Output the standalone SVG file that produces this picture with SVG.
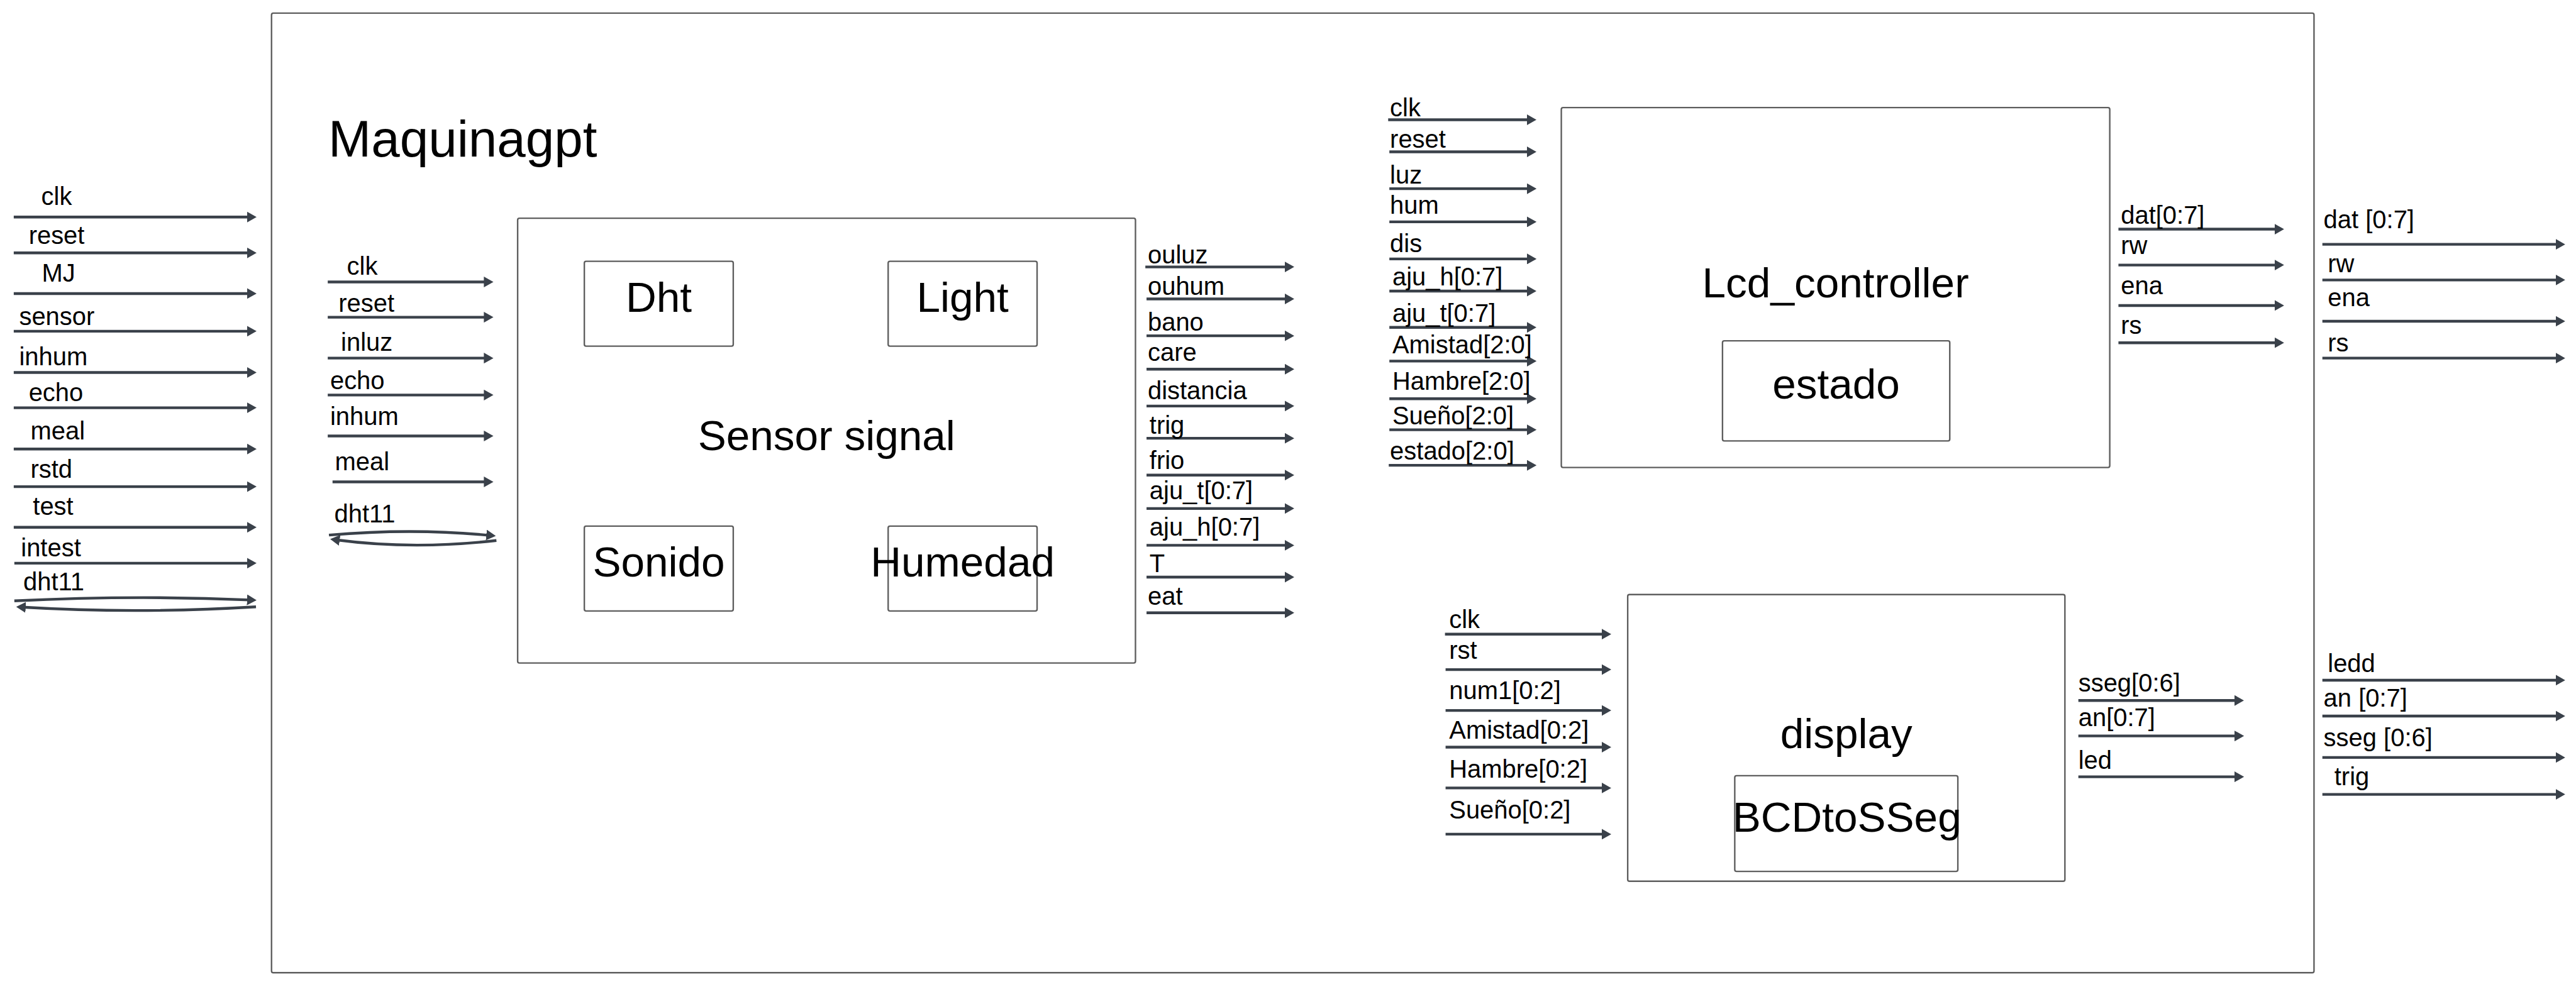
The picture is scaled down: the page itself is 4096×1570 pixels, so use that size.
<svg xmlns="http://www.w3.org/2000/svg" width="4096" height="1570" viewBox="0 0 4096 1570">
<defs>
<marker id="ah" markerUnits="userSpaceOnUse" markerWidth="16" markerHeight="18" viewBox="0 0 16 18" refX="6" refY="9" orient="auto">
<path d="M0,0 L16,9 L0,18 z" fill="#3a414a"/>
</marker>
<style>
.box{fill:#fff;stroke:#5e5e5e;stroke-width:2.5}
.sub{fill:none;stroke:#5e5e5e;stroke-width:2.5}
.w{stroke:#3a414a;stroke-width:4.6;fill:none;marker-end:url(#ah)}
.lbl{font-family:"Liberation Sans",Arial,sans-serif;font-size:42px;fill:#000}
.ttl{font-family:"Liberation Sans",Arial,sans-serif;font-size:71px;fill:#000;text-anchor:middle}
.big{font-family:"Liberation Sans",Arial,sans-serif;font-size:86px;fill:#000}
</style>
</defs>
<rect width="4096" height="1570" fill="#fff"/>
<g transform="scale(0.951)">
<g id="maquinagpt">
<rect class="box" x="454" y="22" width="3415" height="1605" rx="3"/>
<text class="big" x="549" y="262">Maquinagpt</text>
</g>
<g id="sensor_signal">
<rect class="box" x="865.5" y="365" width="1033" height="744" rx="3"/>
<text class="ttl" x="1382" y="753">Sensor signal</text>
</g>
<g id="dht">
<rect class="sub" x="977" y="437" width="249" height="142" rx="3"/>
<text class="ttl" x="1101.5" y="521.6">Dht</text>
</g>
<g id="light">
<rect class="sub" x="1485" y="437" width="249" height="142" rx="3"/>
<text class="ttl" x="1609.5" y="521.6">Light</text>
</g>
<g id="sonido">
<rect class="sub" x="977" y="880" width="249" height="142" rx="3"/>
<text class="ttl" x="1101.5" y="964.4">Sonido</text>
</g>
<g id="humedad">
<rect class="sub" x="1485" y="880" width="249" height="142" rx="3"/>
<text class="ttl" x="1609.5" y="964.4">Humedad</text>
</g>
<g id="lcd_controller">
<rect class="box" x="2610.5" y="180" width="917" height="602" rx="3"/>
<text class="ttl" x="3069" y="497">Lcd_controller</text>
</g>
<g id="estado">
<rect class="sub" x="2880" y="570" width="380" height="167.5" rx="3"/>
<text class="ttl" x="3070" y="667">estado</text>
</g>
<g id="display">
<rect class="box" x="2721.5" y="994.5" width="731" height="479.5" rx="3"/>
<text class="ttl" x="3087" y="1251.7">display</text>
</g>
<g id="bcdtosseg">
<rect class="sub" x="2900.5" y="1297.5" width="373" height="160" rx="3"/>
<text class="ttl" x="3088" y="1390.7">BCDtoSSeg</text>
</g>
<g id="connectors">
<line class="w" x1="23" y1="363" x2="419" y2="363"/>
<line class="w" x1="23" y1="423" x2="419" y2="423"/>
<line class="w" x1="23" y1="491" x2="419" y2="491"/>
<line class="w" x1="23" y1="554" x2="419" y2="554"/>
<line class="w" x1="23" y1="623" x2="419" y2="623"/>
<line class="w" x1="23" y1="682" x2="419" y2="682"/>
<line class="w" x1="23" y1="751" x2="419" y2="751"/>
<line class="w" x1="23" y1="814" x2="419" y2="814"/>
<line class="w" x1="23" y1="882" x2="419" y2="882"/>
<line class="w" x1="24" y1="942" x2="419" y2="942"/>
<path class="w" d="M24,1005 Q226,995 419,1003.5"/>
<path class="w" d="M428,1015 Q228,1027 37,1015.5"/>
<line class="w" x1="548" y1="471.6" x2="815" y2="471.6"/>
<line class="w" x1="548" y1="530.6" x2="815" y2="530.6"/>
<line class="w" x1="548" y1="599" x2="815" y2="599"/>
<line class="w" x1="548" y1="660.7" x2="815" y2="660.7"/>
<line class="w" x1="548" y1="729.2" x2="815" y2="729.2"/>
<line class="w" x1="556" y1="806" x2="815" y2="806"/>
<path class="w" d="M550,895 Q690,883 819,895.5"/>
<path class="w" d="M830,904 Q690,920 562,903"/>
<line class="w" x1="1915" y1="446.5" x2="2154" y2="446.5"/>
<line class="w" x1="1917" y1="500" x2="2154" y2="500"/>
<line class="w" x1="1917" y1="561.7" x2="2154" y2="561.7"/>
<line class="w" x1="1917" y1="617.5" x2="2154" y2="617.5"/>
<line class="w" x1="1917" y1="679.1" x2="2154" y2="679.1"/>
<line class="w" x1="1917" y1="733.1" x2="2154" y2="733.1"/>
<line class="w" x1="1917" y1="794.7" x2="2154" y2="794.7"/>
<line class="w" x1="1917" y1="850.5" x2="2154" y2="850.5"/>
<line class="w" x1="1917" y1="912.1" x2="2154" y2="912.1"/>
<line class="w" x1="1917" y1="965.3" x2="2154" y2="965.3"/>
<line class="w" x1="1917" y1="1025" x2="2154" y2="1025"/>
<line class="w" x1="2321" y1="200.3" x2="2559" y2="200.3"/>
<line class="w" x1="2323" y1="254" x2="2559" y2="254"/>
<line class="w" x1="2323" y1="315.6" x2="2559" y2="315.6"/>
<line class="w" x1="2323" y1="371.1" x2="2559" y2="371.1"/>
<line class="w" x1="2323" y1="433.1" x2="2559" y2="433.1"/>
<line class="w" x1="2323" y1="486.9" x2="2559" y2="486.9"/>
<line class="w" x1="2323" y1="547.6" x2="2559" y2="547.6"/>
<line class="w" x1="2323" y1="604" x2="2559" y2="604"/>
<line class="w" x1="2323" y1="666.9" x2="2559" y2="666.9"/>
<line class="w" x1="2323" y1="718.9" x2="2559" y2="718.9"/>
<line class="w" x1="2322" y1="778.3" x2="2559" y2="778.3"/>
<line class="w" x1="3542" y1="383.3" x2="3809" y2="383.3"/>
<line class="w" x1="3542" y1="443.3" x2="3809" y2="443.3"/>
<line class="w" x1="3542" y1="511" x2="3809" y2="511"/>
<line class="w" x1="3542" y1="573.3" x2="3809" y2="573.3"/>
<line class="w" x1="3883" y1="408.7" x2="4279" y2="408.7"/>
<line class="w" x1="3883" y1="468.3" x2="4279" y2="468.3"/>
<line class="w" x1="3883" y1="537.3" x2="4279" y2="537.3"/>
<line class="w" x1="3883" y1="599" x2="4279" y2="599"/>
<line class="w" x1="2416" y1="1060.7" x2="2684" y2="1060.7"/>
<line class="w" x1="2417" y1="1120" x2="2684" y2="1120"/>
<line class="w" x1="2417" y1="1188.3" x2="2684" y2="1188.3"/>
<line class="w" x1="2417" y1="1249.7" x2="2684" y2="1249.7"/>
<line class="w" x1="2417" y1="1318" x2="2684" y2="1318"/>
<line class="w" x1="2417" y1="1395.3" x2="2684" y2="1395.3"/>
<line class="w" x1="3475" y1="1171.7" x2="3742" y2="1171.7"/>
<line class="w" x1="3475" y1="1231" x2="3742" y2="1231"/>
<line class="w" x1="3475" y1="1299.3" x2="3742" y2="1299.3"/>
<line class="w" x1="3883" y1="1137.7" x2="4279" y2="1137.7"/>
<line class="w" x1="3883" y1="1197.7" x2="4279" y2="1197.7"/>
<line class="w" x1="3883" y1="1267" x2="4279" y2="1267"/>
<line class="w" x1="3883" y1="1328.7" x2="4279" y2="1328.7"/>
</g>
<g id="labels">
<text class="lbl" x="69" y="343">clk</text>
<text class="lbl" x="48" y="407.5">reset</text>
<text class="lbl" x="70" y="471.5">MJ</text>
<text class="lbl" x="32" y="544">sensor</text>
<text class="lbl" x="32" y="610.6">inhum</text>
<text class="lbl" x="48" y="670.7">echo</text>
<text class="lbl" x="51" y="734.7">meal</text>
<text class="lbl" x="51" y="798.7">rstd</text>
<text class="lbl" x="55" y="860.7">test</text>
<text class="lbl" x="35" y="930.5">intest</text>
<text class="lbl" x="39" y="987.7">dht11</text>
<text class="lbl" x="580" y="459.4">clk</text>
<text class="lbl" x="566" y="521.8">reset</text>
<text class="lbl" x="570" y="586.8">inluz</text>
<text class="lbl" x="552" y="650.8">echo</text>
<text class="lbl" x="552" y="710.4">inhum</text>
<text class="lbl" x="560" y="786.2">meal</text>
<text class="lbl" x="559" y="873.9">dht11</text>
<text class="lbl" x="1919" y="440.3">ouluz</text>
<text class="lbl" x="1919" y="493">ouhum</text>
<text class="lbl" x="1919" y="553.2">bano</text>
<text class="lbl" x="1919" y="603.2">care</text>
<text class="lbl" x="1919" y="668">distancia</text>
<text class="lbl" x="1922" y="726">trig</text>
<text class="lbl" x="1922" y="784">frio</text>
<text class="lbl" x="1922" y="834.5">aju_t[0:7]</text>
<text class="lbl" x="1922" y="895.6">aju_h[0:7]</text>
<text class="lbl" x="1922" y="956.8">T</text>
<text class="lbl" x="1919" y="1011.7">eat</text>
<text class="lbl" x="2324" y="195">clk</text>
<text class="lbl" x="2324" y="247.5">reset</text>
<text class="lbl" x="2324" y="307">luz</text>
<text class="lbl" x="2324" y="358">hum</text>
<text class="lbl" x="2324" y="421.9">dis</text>
<text class="lbl" x="2328" y="477.4">aju_h[0:7]</text>
<text class="lbl" x="2328" y="538">aju_t[0:7]</text>
<text class="lbl" x="2328" y="591">Amistad[2:0]</text>
<text class="lbl" x="2328" y="651.7">Hambre[2:0]</text>
<text class="lbl" x="2328" y="710.3">Sueño[2:0]</text>
<text class="lbl" x="2324" y="768.8">estado[2:0]</text>
<text class="lbl" x="3546" y="374">dat[0:7]</text>
<text class="lbl" x="3546" y="425">rw</text>
<text class="lbl" x="3546" y="492.3">ena</text>
<text class="lbl" x="3546" y="558.3">rs</text>
<text class="lbl" x="3885" y="381.7">dat [0:7]</text>
<text class="lbl" x="3892" y="455">rw</text>
<text class="lbl" x="3892" y="512.3">ena</text>
<text class="lbl" x="3892" y="588.3">rs</text>
<text class="lbl" x="2423" y="1050.7">clk</text>
<text class="lbl" x="2423" y="1101.7">rst</text>
<text class="lbl" x="2423" y="1169.3">num1[0:2]</text>
<text class="lbl" x="2423" y="1235.7">Amistad[0:2]</text>
<text class="lbl" x="2423" y="1301">Hambre[0:2]</text>
<text class="lbl" x="2423" y="1369.3">Sueño[0:2]</text>
<text class="lbl" x="3475" y="1156.7">sseg[0:6]</text>
<text class="lbl" x="3475" y="1215">an[0:7]</text>
<text class="lbl" x="3475" y="1286">led</text>
<text class="lbl" x="3892" y="1124">ledd</text>
<text class="lbl" x="3885" y="1181.7">an [0:7]</text>
<text class="lbl" x="3885" y="1248.3">sseg [0:6]</text>
<text class="lbl" x="3903" y="1313.3">trig</text>
</g>
</g>
</svg>
